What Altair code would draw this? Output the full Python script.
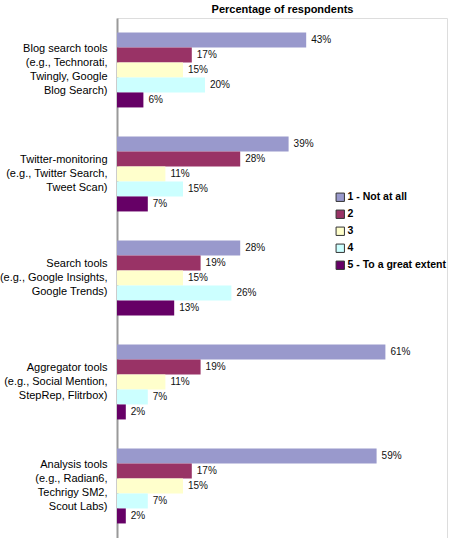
import altair as alt
import pandas as pd

categories = [
    "Blog search tools|(e.g., Technorati,|Twingly, Google|Blog Search)",
    "Twitter-monitoring|(e.g., Twitter Search,|Tweet Scan)",
    "Search tools|(e.g., Google Insights,|Google Trends)",
    "Aggregator tools|(e.g., Social Mention,|StepRep, Flitrbox)",
    "Analysis tools|(e.g., Radian6,|Techrigy SM2,|Scout Labs)",
]
ratings = ["1 - Not at all", "2", "3", "4", "5 - To a great extent"]
r1 = [43, 39, 28, 61, 59]
r2 = [17, 28, 19, 19, 17]
r3 = [15, 11, 15, 11, 15]
r4 = [20, 15, 26, 7, 7]
r5 = [6, 7, 13, 2, 2]
colors = ["#9999CC", "#993366", "#FFFFCC", "#CCFFFF", "#660066"]

rows = []
for series, vals in zip(ratings, [r1, r2, r3, r4, r5]):
    for cat, v in zip(categories, vals):
        rows.append({"tool": cat, "rating": series, "value": v})
df = pd.DataFrame(rows)

FONT = "Liberation Sans"
LH = 14

y = alt.Y("tool:N", sort=categories,
          scale=alt.Scale(paddingInner=0.28, paddingOuter=0.14),
          axis=alt.Axis(title=None, ticks=False, labelExpr="split(datum.label, '|')",
                        labelFontSize=11, labelLineHeight=LH, labelColor="#000",
                        labelPadding=10, domainColor="#999999", domainWidth=2,
                        labelFont=FONT, labelLimit=200,
                        labelOffset={"condition": {"test": "length(split(datum.label, '|')) == 4",
                                                   "value": -1.5 * LH},
                                     "value": -1.0 * LH}))
yoff = alt.YOffset("rating:N", sort=ratings, scale=alt.Scale(paddingInner=0, paddingOuter=0))
x = alt.X("value:Q", scale=alt.Scale(domain=[0, 75], nice=False),
          axis=alt.Axis(orient="top", title="Percentage of respondents", labels=False,
                        ticks=False, domain=False, grid=False, titleFontSize=11,
                        titleFontWeight="bold", titlePadding=4, titleFont=FONT,
                        titleColor="#000"))

base = alt.Chart(df)
bars = base.mark_bar(size=15).encode(
    x=x, y=y, yOffset=yoff,
    color=alt.Color("rating:N", sort=ratings,
                    scale=alt.Scale(domain=ratings, range=colors),
                    legend=alt.Legend(title=None, orient="none", legendX=218, legendY=174,
                                      symbolType="square", symbolSize=70,
                                      symbolStrokeColor="#333", symbolStrokeWidth=1,
                                      labelFontSize=10.5, labelFontWeight="bold",
                                      labelFont=FONT, labelColor="#000",
                                      rowPadding=4, labelOffset=2, labelLimit=200)),
)
labels = base.mark_text(align="left", baseline="middle", dx=5, fontSize=10,
                        font=FONT, color="#111").encode(
    x=alt.X("value:Q"), y=alt.Y("tool:N", sort=categories), yOffset=alt.YOffset("rating:N", sort=ratings),
    text=alt.Text("label:N"),
).transform_calculate(label="datum.value + '%'")

chart = alt.layer(bars, labels).properties(
    width=330, height=520,
    autosize=alt.AutoSizeParams(type="none"),
    padding={"left": 117, "top": 18, "right": 3, "bottom": 0},
).configure_view(stroke=None).configure(background="white")

chart.save("out.html", embed_options={"renderer": "svg", "actions": False})
